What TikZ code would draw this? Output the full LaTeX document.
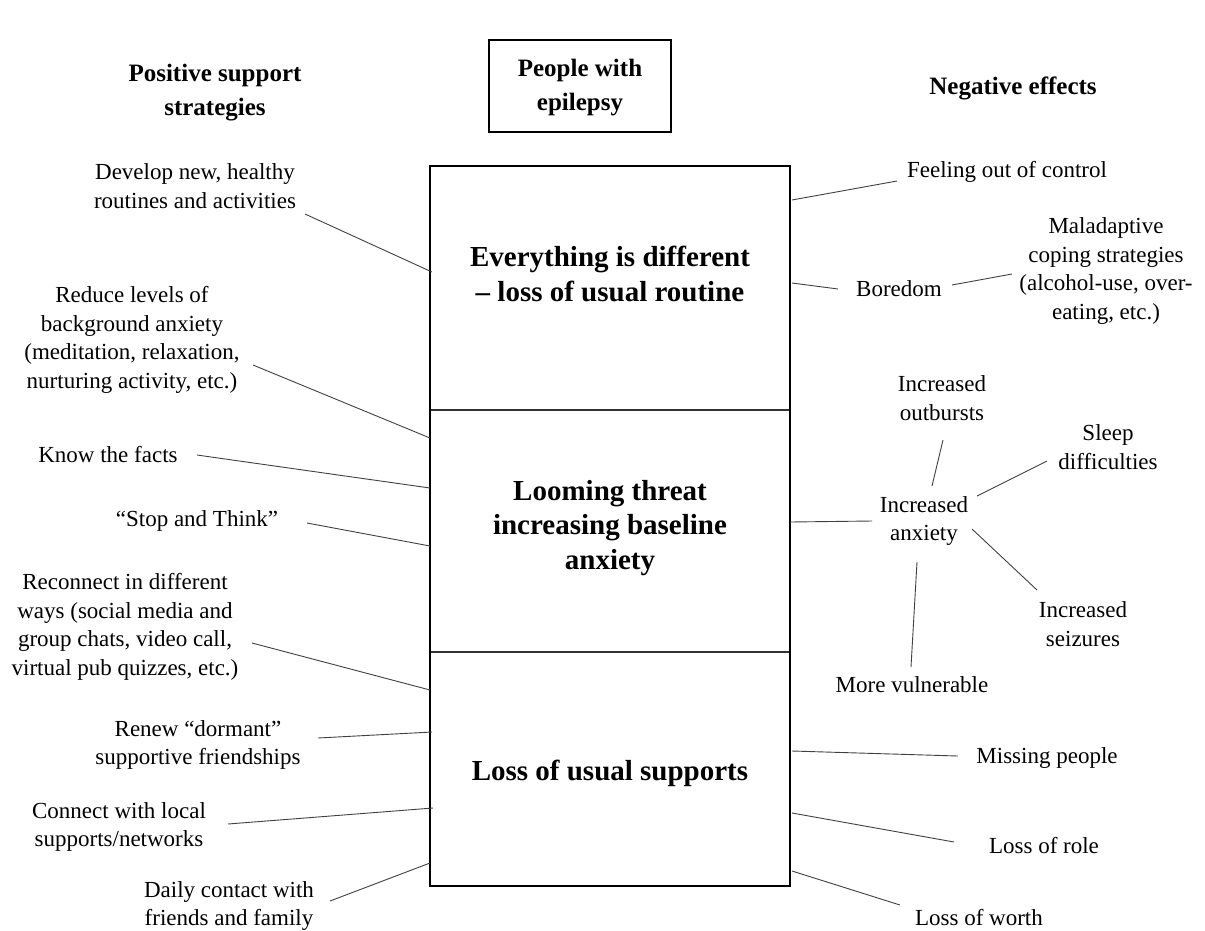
\documentclass[tikz,border=0pt]{standalone}
\usepackage{fontspec}
\setmainfont{Liberation Serif}
\begin{document}
\begin{tikzpicture}[x=1pt,y=-1pt,
  txt/.style={align=center,inner sep=0pt,font=\fontsize{23}{28.5}\selectfont},
  head/.style={align=center,inner sep=0pt,font=\fontsize{25}{34}\selectfont\bfseries},
  boxtxt/.style={align=center,inner sep=0pt,font=\fontsize{29}{34.5}\selectfont\bfseries},
  conn/.style={draw=black!75,line width=0.9pt},
  divider/.style={draw=black!80,line width=1.2pt},
  frame/.style={draw=black,line width=1.8pt}]
\useasboundingbox (0,0) rectangle (1205,930);

% headings
\node[head] (hpos) at (215,93) {Positive support\\strategies};
\node[frame,minimum width=182pt,minimum height=92pt,inner sep=0pt] (pwe) at (580,86) {};
\node[head] (pwetxt) at (580,88) {People with\\epilepsy};
\node[head] (hneg) at (1013,88) {Negative effects};

% main box
\node[frame,minimum width=360pt,minimum height=720pt,inner sep=0pt] (main) at (610,526) {};
\coordinate (d1l) at (431,410); \coordinate (d1r) at (789,410);
\coordinate (d2l) at (431,652); \coordinate (d2r) at (789,652);
\draw[divider] (d1l) -- (d1r);
\draw[divider] (d2l) -- (d2r);
\node[boxtxt] (t1) at (610,274) {Everything is different\\– loss of usual routine};
\node[boxtxt] (t2) at (610,528) {Looming threat\\increasing baseline\\anxiety};
\node[boxtxt] (t3) at (610,773) {Loss of usual supports};

% left texts
\node[txt] (L1) at (195,186) {Develop new, healthy\\routines and activities};
\node[txt] (L2) at (132,340) {Reduce levels of\\background anxiety\\(meditation, relaxation,\\nurturing activity, etc.)};
\node[txt] (L3) at (108,455) {Know the facts};
\node[txt] (L4) at (197,521) {“Stop and Think”};
\node[txt] (L5) at (125,627) {Reconnect in different\\ways (social media and\\group chats, video call,\\virtual pub quizzes, etc.)};
\node[txt] (L6) at (198,745) {Renew “dormant”\\supportive friendships};
\node[txt] (L7) at (119,827) {Connect with local\\supports/networks};
\node[txt] (L8) at (229,906) {Daily contact with\\friends and family};

% left connectors
\coordinate (L1a) at (305,214); \coordinate (L1b) at (432,272);
\coordinate (L2a) at (253,365); \coordinate (L2b) at (430,438);
\coordinate (L3a) at (197,455); \coordinate (L3b) at (430,488);
\coordinate (L4a) at (307,523); \coordinate (L4b) at (430,546);
\coordinate (L5a) at (252,643); \coordinate (L5b) at (430,690);
\coordinate (L6a) at (318,738); \coordinate (L6b) at (432,732);
\coordinate (L7a) at (228,824); \coordinate (L7b) at (433,808);
\coordinate (L8a) at (330,901); \coordinate (L8b) at (430,863);
\foreach \i in {1,...,8} {\draw[conn] (L\i a) -- (L\i b);}

% right texts
\node[txt] (R1) at (1007,172) {Feeling out of control};
\node[txt] (R2) at (899,289) {Boredom};
\node[txt] (R3) at (1106,271) {Maladaptive\\coping strategies\\(alcohol-use, over-\\eating, etc.)};
\node[txt] (R4) at (942,398) {Increased\\outbursts};
\node[txt] (R5) at (1108,447) {Sleep\\difficulties};
\node[txt] (R6) at (924,521) {Increased\\anxiety};
\node[txt] (R7) at (1083,624) {Increased\\seizures};
\node[txt] (R8) at (912,685) {More vulnerable};
\node[txt] (R9) at (1047,758) {Missing people};
\node[txt] (R10) at (1044,846) {Loss of role};
\node[txt] (R11) at (979,918) {Loss of worth};

% right connectors
\coordinate (R1a) at (792,200); \coordinate (R1b) at (897,181);
\coordinate (R2a) at (792,283); \coordinate (R2b) at (838,289);
\coordinate (R3a) at (952,285); \coordinate (R3b) at (1012,274);
\coordinate (R4a) at (943,440); \coordinate (R4b) at (932,486);
\coordinate (R5a) at (977,496); \coordinate (R5b) at (1047,461);
\coordinate (R6a) at (790,522); \coordinate (R6b) at (872,521);
\coordinate (R7a) at (972,529); \coordinate (R7b) at (1037,590);
\coordinate (R8a) at (917,562); \coordinate (R8b) at (911,667);
\coordinate (R9a) at (792,751); \coordinate (R9b) at (958,756);
\coordinate (R10a) at (792,813); \coordinate (R10b) at (954,842);
\coordinate (R11a) at (792,871); \coordinate (R11b) at (900,905);
\foreach \i in {1,...,11} {\draw[conn] (R\i a) -- (R\i b);}
\end{tikzpicture}
\end{document}
